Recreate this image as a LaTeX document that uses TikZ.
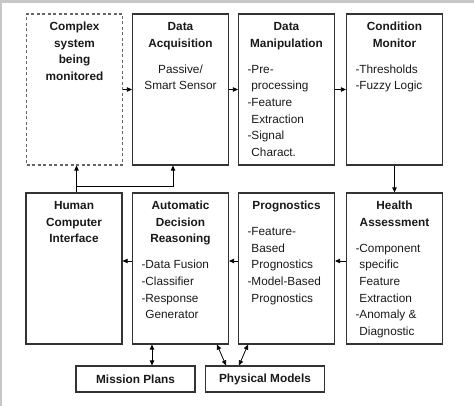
\documentclass[tikz,border=0pt]{standalone}
\usepackage{fontspec}
\setmainfont{Liberation Sans}
\usetikzlibrary{arrows.meta}
\tikzset{blk/.style = {draw = black!80, line width = 1.2pt, inner sep = 0pt, text = black!90}}
\tikzset{tag/.style = {draw = black!80, line width = 1.2pt, minimum width = 119pt, minimum height = 26pt, inner sep = 0pt, text = black!90, font = \fontsize{11.8}{16.7}\selectfont\bfseries}}
\tikzset{flow/.style = {line width = 0.8pt, -{Triangle[length = 5pt, width = 4.5pt]}}}
\tikzset{flow2/.style = {line width = 0.8pt, {Triangle[length = 5pt, width = 4.5pt]}-{Triangle[length = 5pt, width = 4.5pt]}}}
\newcommand{\blktext}[2]{\parbox[t][151pt][t]{96pt}{\centering\rule{0pt}{16.5pt}\textbf{#1}\par\vspace{9.3pt}#2}}
\newcommand{\lft}{\raggedright\leftskip = 9pt\relax}

\begin{document}
\begin{tikzpicture}[x = 1pt, y = -1pt, every node/.style = {font = \fontsize{11.8}{16.7}\selectfont}]

  \def\rowa{89.5}
  \def\rowb{268.5}
  \def\rowc{379}

  \useasboundingbox (0 , 0) rectangle (474 , 406);
  \fill [black!22] (0 , 0) rectangle (474 , 3);
  \fill [black!22] (0 , 0) rectangle (2 , 406);

  % top row
  \node [blk, draw = black!60, dash pattern = on 3pt off 2.5pt] (sys) at (74.5 , \rowa) {\blktext{Complex\\system\\being\\monitored}{}};
  \node [blk] (acq) at (180.5 , \rowa) {\blktext{Data\\Acquisition}{Passive/\\Smart Sensor}};
  \node [blk] (manip) at (286.5 , \rowa) {\blktext{Data\\Manipulation}{\lft -Pre-\\\phantom{-}processing\\-Feature\\\phantom{-}Extraction\\-Signal\\\phantom{-}Charact.}};
  \node [blk] (cond) at (394.5 , \rowa) {\blktext{Condition\\Monitor}{\lft -Thresholds\\-Fuzzy Logic}};

  % bottom row
  \node [blk] (hci) at (74 , \rowb) {\blktext{Human\\Computer\\Interface}{}};
  \node [blk] (adr) at (180.5 , \rowb) {\blktext{Automatic\\Decision\\Reasoning}{\lft -Data Fusion\\-Classifier\\-Response\\\phantom{-}Generator}};
  \node [blk] (prog) at (286.5 , \rowb) {\blktext{Prognostics}{\lft -Feature-\\\phantom{-}Based\\\phantom{-}Prognostics\\-Model-Based\\\phantom{-}Prognostics}};
  \node [blk] (health) at (394.5 , \rowb) {\blktext{Health\\Assessment}{\lft -Component\\\phantom{-}specific\\\phantom{-}Feature\\\phantom{-}Extraction\\-Anomaly \&\\\phantom{-}Diagnostic}};

  \node [tag] (mission) at (135.5 , \rowc) {Mission Plans};
  \node [tag] (phys) at (265 , \rowc) {Physical Models};

  % flow
  \draw [flow] (sys.east) -- (acq.west);
  \draw [flow] (acq.east) -- (manip.west);
  \draw [flow] (manip.east) -- (cond.west);
  \draw [flow] (cond.south) -- (health.north);
  \draw [flow] ([yshift = 7.5pt] health.west) -- ([yshift = 7.5pt] prog.east);
  \draw [flow] ([yshift = 7.5pt] prog.west) -- ([yshift = 7.5pt] adr.east);
  \draw [flow] ([yshift = 7.5pt] adr.west) -- ([yshift = 7.5pt] hci.east);

  \coordinate (split) at (76.5 , 186);
  \draw [flow] (hci.north -| split) -- (sys.south -| split);
  \draw [flow] (split) -| ([xshift = -7.5pt] acq.south);

  \coordinate (mp) at (152 , 0);
  \draw [flow2] (mission.north -| mp) -- (adr.south -| mp);
  \draw [flow2] ([xshift = 36.5pt] adr.south) -- ([xshift = -39pt] phys.north);
  \draw [flow2] ([xshift = -38.5pt] prog.south) -- ([xshift = -26pt] phys.north);

\end{tikzpicture}
\end{document}
